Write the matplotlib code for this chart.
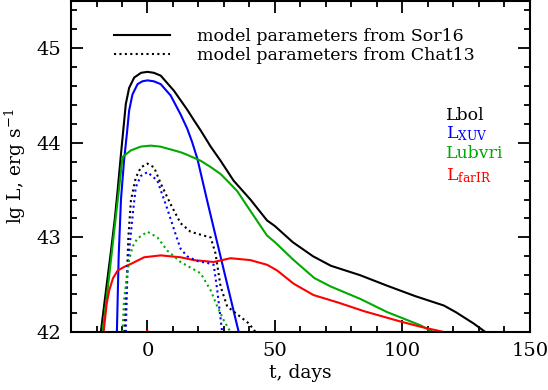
import numpy as np
import matplotlib
matplotlib.use('Agg')
from matplotlib import pyplot as plt

plt.rcParams['font.family'] = ['DejaVu Serif']
plt.rcParams['mathtext.fontset'] = 'dejavuserif'

# --- model parameters from Sor16 (solid) ---
t_bol = [-18.3, -16, -14.3, -12.8, -11.7, -10.4, -9.4, -8.5, -7.2, -5.2, -2.5, 0, 2.5, 5.2, 10.4,
         15.6, 18.2, 20.9, 24.8, 28.7, 33.8, 40.4, 46.9, 50, 57, 65, 72, 83.5, 94, 105, 116.3, 121,
         128, 132.6]
l_bol = [42.0, 42.5, 42.86, 43.2, 43.5, 43.88, 44.16, 44.41, 44.58, 44.69, 44.74, 44.75, 44.74, 44.71,
         44.55, 44.35, 44.24, 44.13, 43.96, 43.81, 43.6, 43.4, 43.18, 43.12, 42.95, 42.8, 42.7, 42.6,
         42.49, 42.38, 42.28, 42.21, 42.09, 42.0]

t_xuv = [-12, -11.3, -10.4, -9.2, -8.1, -7.2, -5.9, -3.9, -2, 0, 2.5, 5.2, 9.1, 13, 15.6, 17.5, 19.6,
         23.5, 26.7, 30, 33.3, 35.8]
l_xuv = [42.0, 42.8, 43.4, 43.81, 44.09, 44.34, 44.51, 44.62, 44.65, 44.66, 44.65, 44.62, 44.5, 44.3,
         44.15, 44.01, 43.83, 43.38, 43.02, 42.65, 42.28, 42.0]

t_opt = [-17.6, -15, -12.5, -10.8, -9.8, -6.5, -2.6, 1.3, 5, 10.4, 13, 15, 20.9, 25, 28.7, 32, 35.2,
         40.4, 46.9, 50, 57.4, 65.5, 72, 83.5, 94.1, 107.2, 112.1]
l_opt = [42.0, 42.6, 43.2, 43.6, 43.85, 43.92, 43.96, 43.97, 43.96, 43.92, 43.9, 43.88, 43.81, 43.74,
         43.67, 43.58, 43.49, 43.28, 43.02, 42.95, 42.76, 42.57, 42.48, 42.35, 42.21, 42.07, 42.0]

t_ir = [-17.2, -16, -15, -13.5, -11.7, -9, -6.5, -1.3, 5.2, 13, 18.2, 26, 32.6, 36.5, 40.4, 43, 47,
        50.9, 57.4, 65.2, 75, 85, 99.4, 108, 116.3]
l_ir = [42.0, 42.3, 42.44, 42.57, 42.65, 42.69, 42.72, 42.79, 42.81, 42.79, 42.76, 42.74, 42.78,
        42.77, 42.76, 42.74, 42.71, 42.65, 42.51, 42.39, 42.31, 42.22, 42.11, 42.05, 42.0]

# --- model parameters from Chat13 (dotted) ---
t_bol2 = [-9, -8.2, -7.5, -6.5, -4.6, -2.6, 0, 2.6, 5.2, 9.1, 13, 16.9, 22, 24.8, 26.7, 28.7, 31.3,
          36.5, 39.8, 42.4]
l_bol2 = [42.0, 42.5, 43.0, 43.39, 43.63, 43.74, 43.78, 43.74, 43.57, 43.35, 43.15, 43.06, 43.02,
          43.0, 42.83, 42.48, 42.27, 42.16, 42.09, 42.0]

t_xuv2 = [-8.5, -7.8, -5.9, -4.6, -2.6, 0, 3.9, 7.8, 11.7, 13, 15.6, 19.6, 23.5, 26, 27.4, 29.3]
l_xuv2 = [42.0, 42.69, 43.21, 43.53, 43.65, 43.69, 43.6, 43.3, 42.98, 42.88, 42.8, 42.75, 42.73,
          42.71, 42.44, 42.0]

t_opt2 = [-9.8, -9.2, -7.2, -5.9, -3.9, 0, 3.9, 7.8, 13, 20.9, 24.8, 27.4, 30, 32.6]
l_opt2 = [42.0, 42.34, 42.76, 42.9, 42.99, 43.06, 43.0, 42.86, 42.74, 42.62, 42.44, 42.27, 42.12, 42.0]

t_ir2 = [-2.5, -1, 0, 1, 2]
l_ir2 = [41.99, 42.008, 42.012, 42.008, 41.99]

green = '#00aa00'
dots = (0, (1, 1.6))

fig = plt.figure(figsize=(5.48, 3.9), dpi=100)
ax = fig.add_axes([0.1296, 0.1487, 0.837, 0.849])

h1, = ax.plot(t_bol, l_bol, color='black', lw=1.5, label='model parameters from Sor16')
ax.plot(t_xuv, l_xuv, color='blue', lw=1.5)
ax.plot(t_opt, l_opt, color=green, lw=1.5)
ax.plot(t_ir, l_ir, color='red', lw=1.5)

h2, = ax.plot(t_bol2, l_bol2, color='black', lw=1.5, ls=dots, label='model parameters from Chat13')
ax.plot(t_xuv2, l_xuv2, color='blue', lw=1.5, ls=dots)
ax.plot(t_opt2, l_opt2, color=green, lw=1.5, ls=dots)
ax.plot(t_ir2, l_ir2, color='red', lw=1.5, ls=dots)

ax.set_xlim(-30, 150)
ax.set_ylim(42, 45.5)
ax.set_xticks([0, 50, 100, 150])
ax.set_xticks(np.arange(-30, 151, 10), minor=True)
ax.set_yticks([42, 43, 44, 45])
ax.set_yticks(np.arange(42, 45.51, 0.2), minor=True)
ax.tick_params(which='both', direction='in', top=True, right=True, width=1.3, labelsize=14, pad=7)
ax.tick_params(which='major', length=8.5)
ax.tick_params(which='minor', length=4.3)
for s in ax.spines.values():
    s.set_linewidth(1.5)

ax.set_xlabel('t, days', fontsize=13.5, labelpad=3)
ax.set_ylabel(r'lg L, erg s$^{-1}$', fontsize=13.5, labelpad=6)

ax.legend(handles=[h1, h2], loc='upper left', bbox_to_anchor=(0.06, 0.965), frameon=False,
          fontsize=12.5, handlelength=3.2, handletextpad=1.6, labelspacing=0.1)

ax.text(0.817, 0.640, 'Lbol', transform=ax.transAxes, fontsize=12.5, color='black', va='baseline')
ax.text(0.817, 0.585, r'L$_\mathregular{XUV}$', transform=ax.transAxes, fontsize=12.5, color='blue', va='baseline')
ax.text(0.817, 0.525, 'Lubvri', transform=ax.transAxes, fontsize=12.5, color=green, va='baseline')
ax.text(0.817, 0.459, r'L$_\mathregular{farIR}$', transform=ax.transAxes, fontsize=12.5, color='red', va='baseline')

fig.savefig('out.png', dpi=100)
